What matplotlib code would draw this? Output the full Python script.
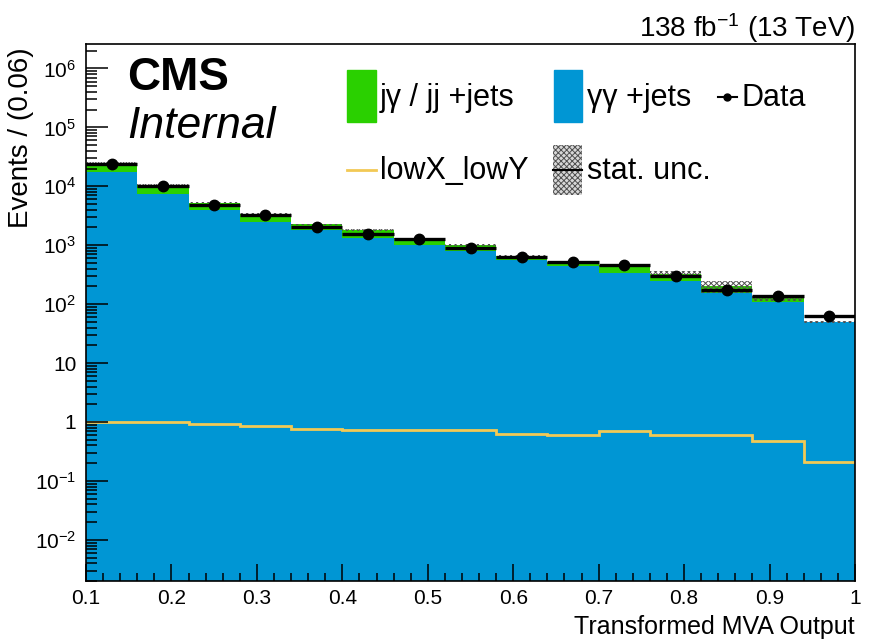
import matplotlib
matplotlib.use("Agg")
import matplotlib.pyplot as plt
import numpy as np
from matplotlib.patches import Rectangle
from matplotlib.lines import Line2D
from matplotlib.ticker import FixedLocator, LogLocator, NullFormatter

BLUE, GREEN, YELLOW = "#0096d4", "#2ad000", "#f2c955"
plt.rcParams.update({"font.family": "Liberation Sans",
                     "mathtext.fontset": "custom",
                     "mathtext.rm": "Liberation Sans",
                     "mathtext.it": "Liberation Sans:italic",
                     "mathtext.bf": "Liberation Sans:bold",
                     "hatch.linewidth": 0.7})

# 15 bins of 0.06 in the transformed MVA score
edges = np.linspace(0.1, 1.0, 16)
gg_jets = [1.73e4, 7.3e3, 3.9e3, 2.48e3, 1.8e3, 1.31e3, 1.02e3, 790,
           570, 445, 343, 245, 154, 107, 49]
jg_jj_jets = [7.7e3, 3.4e3, 1.4e3, 970, 450, 490, 280, 210,
              90, 65, 117, 80, 46, 18, 1]
stat_unc = [500, 250, 120, 80, 60, 60, 40, 40, 30, 25, 20, 35, 45, 12, 2]
data = [2.36e4, 1.01e4, 4.9e3, 3.2e3, 2.07e3, 1.58e3, 1.26e3, 910,
        640, 520, 458, 295, 177, 138, 63]
lowx_lowy = [1.01, 1.0, 0.91, 0.855, 0.77, 0.73, 0.74, 0.74,
             0.63, 0.61, 0.70, 0.595, 0.595, 0.48, 0.207]

xtick_vals = [0.1, 0.2, 0.3, 0.4, 0.5, 0.6, 0.7, 0.8, 0.9, 1.0]
xtick_labels = ["0.1", "0.2", "0.3", "0.4", "0.5", "0.6", "0.7", "0.8", "0.9", "1"]
ytick_vals = [1e-2, 1e-1, 1, 10, 1e2, 1e3, 1e4, 1e5, 1e6]
ytick_labels = ["$10^{-2}$", "$10^{-1}$", "1", "10", "$10^{2}$", "$10^{3}$",
                "$10^{4}$", "$10^{5}$", "$10^{6}$"]

gg = np.array(gg_jets)
total = gg + np.array(jg_jj_jets)
unc = np.array(stat_unc)
dat = np.array(data)
centers = 0.5 * (edges[:-1] + edges[1:])

W, H = 873, 644
fig = plt.figure(figsize=(W / 100, H / 100), dpi=100)
ax = fig.add_axes([86 / W, 1 - 581 / H, (855 - 86) / W, (581 - 44) / H])

floor = 1e-6
ax.stairs(gg, edges, baseline=floor, fill=True, color=BLUE, lw=0)
ax.stairs(total, edges, baseline=gg, fill=True, color=GREEN, lw=0)
ax.stairs(total + unc, edges, baseline=total - unc, fill=True, facecolor="none",
          edgecolor="#505050", hatch="xxxxxx", lw=0)
ax.stairs(lowx_lowy, edges, baseline=None, color=YELLOW, lw=2.0)
ax.errorbar(centers, dat, xerr=0.5 * np.diff(edges), yerr=np.sqrt(dat), fmt="o",
            color="black", ms=7.5, elinewidth=2.4, capsize=0)

ax.set_yscale("log")
ax.set_xlim(0.1, 1.0)
ax.set_ylim(2.0e-3, 2.6e6)

ax.xaxis.set_major_locator(FixedLocator(xtick_vals))
ax.set_xticklabels(xtick_labels)
ax.xaxis.set_minor_locator(FixedLocator(np.arange(0.12, 1.0, 0.02)))
ax.yaxis.set_major_locator(FixedLocator(ytick_vals))
ax.set_yticklabels(ytick_labels)
ax.yaxis.set_minor_locator(LogLocator(base=10, subs=np.arange(2, 10), numticks=20))
ax.yaxis.set_minor_formatter(NullFormatter())
ax.tick_params(which="both", direction="in", top=False, right=False,
               labelsize=15, width=1.1)
ax.tick_params(axis="y", which="major", length=16, pad=7)
ax.tick_params(axis="y", which="minor", length=8)
ax.tick_params(axis="x", which="major", length=12, pad=6)
ax.tick_params(axis="x", which="minor", length=6)
for s in ax.spines.values():
    s.set_linewidth(1.2)

ax.set_xlabel("Transformed MVA Output", fontsize=18, loc="right")
ax.xaxis.set_label_coords(1.0, -0.063)
ax.set_ylabel("Events / (0.06)", fontsize=20, loc="top")
ax.yaxis.set_label_coords(-0.068, 0.993)

def fpx(x, y):
    return x / W, 1 - y / H

fig.text(*fpx(855, 28), "138 fb$^{-1}$ (13 TeV)", fontsize=20, ha="right", va="center")
fig.text(*fpx(127, 78), "CMS", fontsize=33, fontweight="bold", ha="left", va="center")
fig.text(*fpx(127, 126), "Internal", fontsize=32, style="italic", ha="left", va="center")

# legend, three columns
tkw = dict(fontsize=22, ha="left", va="center", transform=fig.transFigure)
fig.patches.append(Rectangle(fpx(347, 122), 29 / W, 52 / H, color=GREEN,
                             transform=fig.transFigure))
fig.text(*fpx(380, 98), "jγ / jj +jets", **tkw)
fig.patches.append(Rectangle(fpx(554, 122), 28 / W, 52 / H, color=BLUE,
                             transform=fig.transFigure))
fig.text(*fpx(587, 98), "γγ +jets", **tkw)
fig.lines.append(Line2D([718 / W, 737 / W], [1 - 97 / H] * 2, color="black", lw=1.5,
                        transform=fig.transFigure))
fig.lines.append(Line2D([727 / W], [1 - 97 / H], color="black", marker="o", ms=5,
                        transform=fig.transFigure))
fig.text(*fpx(742, 98), "Data", **tkw)
fig.lines.append(Line2D([347 / W, 376 / W], [1 - 170 / H] * 2, color=YELLOW, lw=2,
                        transform=fig.transFigure))
fig.text(*fpx(380, 171), "lowX_lowY", **tkw)
fig.patches.append(Rectangle(fpx(553, 195), 29 / W, 50 / H, facecolor="#d8d8d8",
                             edgecolor="#505050", hatch="xxxxxx", lw=0,
                             transform=fig.transFigure))
fig.lines.append(Line2D([553 / W, 582 / W], [1 - 170 / H] * 2, color="black", lw=1.5,
                        transform=fig.transFigure))
fig.text(*fpx(587, 171), "stat. unc.", **tkw)

fig.savefig("out.png", dpi=100)
